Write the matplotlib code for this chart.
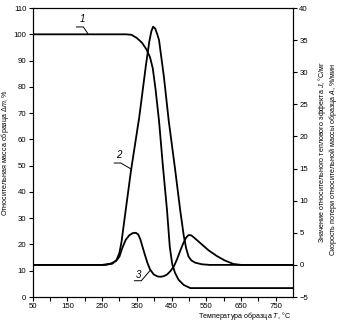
import matplotlib
matplotlib.use("Agg")
import matplotlib.pyplot as plt

plt.rcParams['font.family'] = ['Liberation Sans', 'DejaVu Sans']
plt.rcParams['mathtext.fontset'] = 'custom'
plt.rcParams['mathtext.it'] = 'Liberation Sans:italic'
plt.rcParams['mathtext.rm'] = 'Liberation Sans'

# Curve 1: relative mass, % (left axis)
t_mass = [50, 150, 250, 320, 335, 350, 365, 378, 388, 396, 404, 414, 425, 437, 445, 452, 460, 470, 485, 504, 550, 650, 800]
mass = [100, 100, 100, 100, 99.8, 98.6, 96.8, 94.2, 91.3, 87, 79, 67, 50, 33, 19, 12.5, 9.2, 6.6, 4.6, 3.4, 3.4, 3.4, 3.4]

# Curve 2: relative heat effect J, °C/mg (right axis)
t_heat = [50, 150, 260, 280, 292, 300, 306, 314, 333, 357, 376, 386, 392, 397, 403, 409, 414, 428, 442, 460, 475, 485, 492, 499, 507, 518, 537, 560, 650, 800]
heat = [0, 0, 0, 0.2, 0.8, 1.9, 3.6, 6.9, 14.6, 23.0, 31.0, 34.8, 36.4, 37.1, 36.8, 35.9, 35.0, 29.3, 22.4, 15.0, 8.5, 4.6, 2.6, 1.3, 0.7, 0.35, 0.1, 0, 0, 0]

# Curve 3: mass loss rate A, %/min (right axis)
t_rate = [50, 150, 250, 275, 290, 300, 308, 318, 328, 338, 347, 354, 360, 366, 372, 380, 388, 399, 410, 418, 428, 437, 447, 457, 466, 475, 484, 492, 499, 507, 516, 535, 556, 580, 603, 628, 650, 800]
rate = [0, 0, 0, 0.2, 0.6, 1.3, 2.6, 3.9, 4.6, 4.95, 5.0, 4.75, 4.0, 2.9, 1.8, 0.4, -0.7, -1.5, -1.8, -1.85, -1.75, -1.5, -0.95, -0.2, 0.9, 2.2, 3.4, 4.25, 4.65, 4.6, 4.2, 3.3, 2.3, 1.4, 0.7, 0.15, 0, 0]

x_ticks = [50, 150, 250, 350, 450, 550, 650, 750]
left_ticks = [0, 10, 20, 30, 40, 50, 60, 70, 80, 90, 100, 110]
right_ticks = [-5, 0, 5, 10, 15, 20, 25, 30, 35, 40]

fig = plt.figure(figsize=(3.40, 3.22), dpi=100)
ax1 = fig.add_axes([0.096, 0.0776, 0.766, 0.8974])
ax2 = ax1.twinx()

lw = 1.3
ax1.plot(t_mass, mass, color='black', lw=lw, solid_joinstyle='round')
ax2.plot(t_heat, heat, color='black', lw=lw, solid_joinstyle='round')
ax2.plot(t_rate, rate, color='black', lw=lw, solid_joinstyle='round')

ax1.set_xlim(50, 800)
ax1.set_ylim(0, 110)
ax2.set_ylim(-5, 40)

ax1.set_xticks(x_ticks)
ax1.set_xticks(list(range(100, 800, 100)), minor=True)
ax1.set_yticks(left_ticks)
ax2.set_yticks(right_ticks)

fs = 5.6
lfs = 5.1
for ax in (ax1, ax2):
    for s in ax.spines.values():
        s.set_linewidth(0.8)
ax1.tick_params(axis='both', which='both', direction='out', length=3, width=0.8, labelsize=fs, pad=1.5)
ax2.tick_params(axis='y', direction='out', length=3, width=0.8, labelsize=fs, pad=1.5)

ax1.set_ylabel('Относительная масса образца Δ$m$, %', fontsize=lfs, labelpad=2)
fig.text(291/340, 1 - 316/322, 'Температура образца $T$, °C', fontsize=lfs, ha='right', va='center')
fig.text(322/340, 1 - 152/322, 'Значение относительного теплового эффекта $J$, °C/мг',
         fontsize=lfs, rotation=90, ha='center', va='center')
fig.text(333/340, 1 - 159/322, 'Скорость потери относительной массы образца $A$, %/мин',
         fontsize=lfs, rotation=90, ha='center', va='center')

# curve number labels (left-axis coordinates)
lab_fs = 7
ax1.text(192, 104.0, '1', fontsize=lab_fs, style='italic', ha='center', va='bottom')
ax1.plot([176, 196, 209], [102.8, 102.8, 100.3], color='black', lw=0.7)
ax1.text(297, 52.0, '2', fontsize=lab_fs, style='italic', ha='center', va='bottom')
ax1.plot([285, 304, 335], [51.0, 51.0, 48.6], color='black', lw=0.7)
ax1.text(354, 6.6, '3', fontsize=lab_fs, style='italic', ha='center', va='bottom')
ax1.plot([343, 363, 389], [6.2, 6.2, 10.2], color='black', lw=0.7)

fig.savefig('out.png', dpi=100)
